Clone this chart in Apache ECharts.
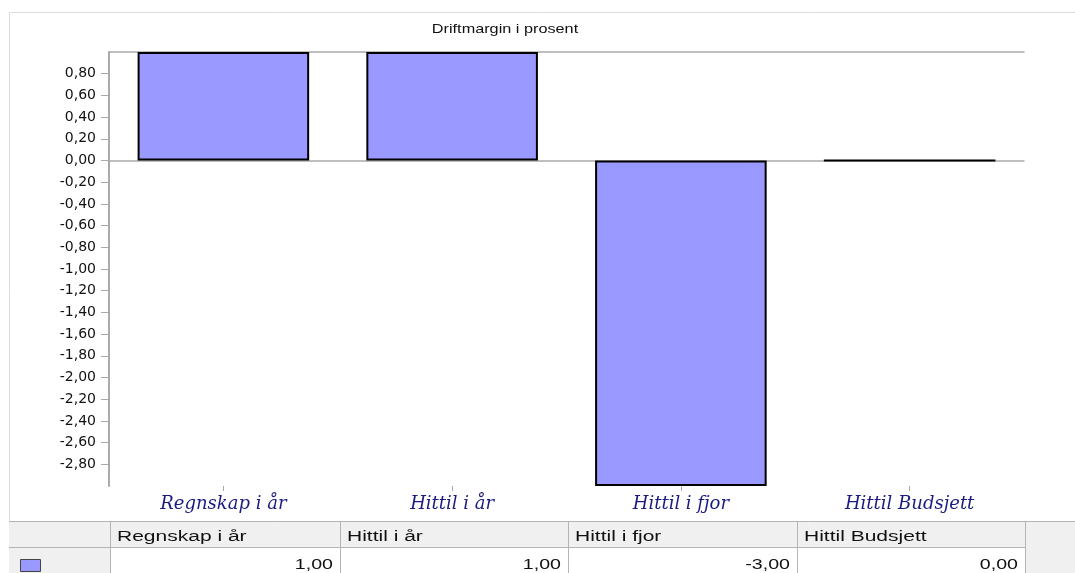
<!DOCTYPE html>
<html><head><meta charset="utf-8">
<script src="https://cdn.jsdelivr.net/npm/echarts@6/dist/echarts.min.js"></script>
<style>html,body{margin:0;padding:0;background:#fff}#c{width:1075px;height:573px}</style>
</head><body><div id="c"></div>
<script>
const title = 'Driftmargin i prosent';
const categories = ['Regnskap i år', 'Hittil i år', 'Hittil i fjor', 'Hittil Budsjett'];
const values = [1.00, 1.00, -3.00, 0.00];
const yMin = -3, yMax = 1, yStep = 0.2;
const yTicks = [0.8, 0.6, 0.4, 0.2, 0, -0.2, -0.4, -0.6, -0.8, -1.0, -1.2, -1.4, -1.6, -1.8,
                -2.0, -2.2, -2.4, -2.6, -2.8];

const fmt = v => v.toFixed(2).replace('.', ',');
const chart = echarts.init(document.getElementById('c'));
const arial = '"Liberation Sans", Arial';
const sans = '"DejaVu Sans", "Liberation Sans", Arial';

// table geometry
const colX = [9, 110, 340, 568, 797, 1025];
const tTop = 521, rowH = 26;
const g = [];
g.push({type:'line', shape:{x1:9.5,y1:12.5,x2:1075,y2:12.5}, style:{stroke:'#dcdcdc',lineWidth:1}});
g.push({type:'line', shape:{x1:9.5,y1:12.5,x2:9.5,y2:573}, style:{stroke:'#dcdcdc',lineWidth:1}});
g.push({type:'text', x:505, y:29, scaleX:1.25, style:{text:title, font:'13px ' + arial, fill:'#111', align:'center', verticalAlign:'middle'}});
g.push({type:'rect', shape:{x:9,y:tTop,width:1066,height:rowH}, style:{fill:'#f0f0f0'}});
g.push({type:'rect', shape:{x:9,y:tTop+rowH,width:colX[1]-9,height:rowH}, style:{fill:'#f0f0f0'}});
g.push({type:'rect', shape:{x:colX[5],y:tTop+rowH,width:1075-colX[5],height:rowH}, style:{fill:'#f0f0f0'}});
g.push({type:'rect', shape:{x:colX[1],y:tTop+rowH,width:colX[5]-colX[1],height:rowH}, style:{fill:'#ffffff'}});
g.push({type:'line', shape:{x1:9,y1:tTop+0.5,x2:1075,y2:tTop+0.5}, style:{stroke:'#b4b4b4',lineWidth:1}});
g.push({type:'line', shape:{x1:9,y1:tTop+rowH+0.5,x2:colX[5],y2:tTop+rowH+0.5}, style:{stroke:'#b4b4b4',lineWidth:1}});
for (let i = 1; i < colX.length; i++) {
  g.push({type:'line', shape:{x1:colX[i]+0.5,y1:tTop,x2:colX[i]+0.5,y2:573}, style:{stroke:'#b4b4b4',lineWidth:1}});
}
g.push({type:'rect', shape:{x:20.5,y:559.5,width:20,height:12}, style:{fill:'#9999ff',stroke:'#444',lineWidth:1}});
categories.forEach((c, i) => {
  g.push({type:'text', x:colX[i+1]+7, y:tTop+16, scaleX:1.5, style:{text:c, font:'14px ' + arial, fill:'#111', verticalAlign:'middle'}});
  g.push({type:'text', x:colX[i+2]-7, y:tTop+rowH+18, scaleX:1.4, style:{text:fmt(values[i]), font:'14px ' + arial, fill:'#111', align:'right', verticalAlign:'middle'}});
});

chart.setOption({
  animation: false,
  backgroundColor: '#fff',
  grid: {left: 109, right: 51, top: 52, bottom: 87},
  xAxis: [
    {type: 'category', data: categories,
      axisLine: {show: false, onZero: false}, axisTick: {show: true, alignWithLabel: true, length: 5, lineStyle: {color: '#aaa'}},
      axisLabel: {fontFamily: '"DejaVu Serif", "Liberation Serif", serif', fontStyle: 'italic', fontSize: 18, color: '#1c1c80', margin: 9}},
    {type: 'category', data: categories, position: 'bottom',
      axisLine: {show: true, onZero: true, lineStyle: {color: '#aaa', width: 1.5}},
      axisTick: {show: false}, axisLabel: {show: false}},
    {type: 'category', data: categories, position: 'top',
      axisLine: {show: true, onZero: false, lineStyle: {color: '#aaa', width: 1.5}},
      axisTick: {show: false}, axisLabel: {show: false}}
  ],
  yAxis: {type: 'value', min: yMin, max: yMax, interval: yStep,
    axisLine: {show: true, lineStyle: {color: '#aaa', width: 2}},
    axisTick: {show: true, length: 8, lineStyle: {color: '#aaa'}, customValues: yTicks},
    splitLine: {show: false},
    axisLabel: {margin: 13, fontFamily: sans, fontSize: 14, color: '#111',
      customValues: yTicks, formatter: v => fmt(v)}},
  series: [{type: 'bar', data: values, barWidth: '75%', xAxisIndex: 0,
    itemStyle: {color: '#9999ff', borderColor: '#000', borderWidth: 2},
    z: 3}],
  graphic: g
});
</script></body></html>
